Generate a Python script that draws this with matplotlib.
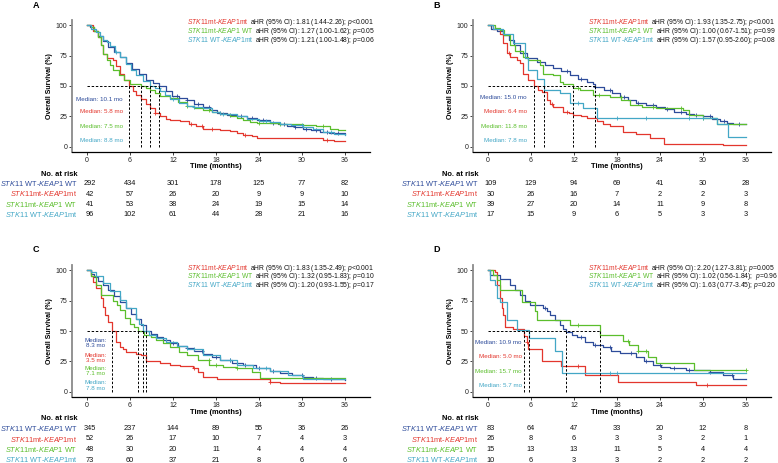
import numpy as np
import matplotlib
matplotlib.use("Agg")
import matplotlib.pyplot as plt
from matplotlib.transforms import blended_transform_factory

plt.rcParams['font.family'] = ['Liberation Sans', 'DejaVu Sans']
plt.rcParams['mathtext.fontset'] = 'custom'
plt.rcParams['mathtext.rm'] = 'Liberation Sans'
plt.rcParams['mathtext.it'] = 'Liberation Sans:italic'
plt.rcParams['mathtext.bf'] = 'Liberation Sans:bold'

BLUE = '#2D4B9A'
RED = '#E3362D'
GREEN = '#5BBE2C'
CYAN = '#43A7C6'
COLORS = [BLUE, RED, GREEN, CYAN]

GROUPS = [r'$\mathit{STK11}$ WT-$\mathit{KEAP1}$ WT',
          r'$\mathit{STK11}$mt-$\mathit{KEAP1}$mt',
          r'$\mathit{STK11}$mt-$\mathit{KEAP1}$ WT',
          r'$\mathit{STK11}$ WT-$\mathit{KEAP1}$mt']
RISK_TIMES = [0, 6, 12, 18, 24, 30, 36]

# ---- panel A ----
A_BLUE_T = [0, 0.4, 1.0, 1.6, 2.3, 3.0, 3.8, 4.6, 5.5, 6.3, 7.2, 8.3, 9.2, 10.1, 11.0, 11.8, 12.8, 13.9, 15.0,
            16.2, 17.2, 18.1, 19.5, 20.9, 22.3, 23.7, 25.5, 26.7, 27.9, 29.0, 30.2, 31.3, 32.5, 33.8, 35.0, 36]
A_BLUE_S = [100, 98, 95, 91, 87, 82, 78, 74, 69, 64, 60, 55, 52.5, 50, 46, 42, 40, 38.5, 35.5,
            32.5, 30, 27.6, 26.3, 25, 23.5, 22, 20, 18.5, 17, 16, 15, 13.8, 12.6, 11.8, 11.2, 11]
A_RED_T = [0, 0.8, 1.5, 1.9, 2.2, 2.8, 3.7, 4.1, 4.6, 5.2, 5.8, 6.4, 6.9, 7.6, 8.2, 8.8, 9.5, 10.2, 11.0, 11.6,
           13.0, 14.3, 15.2, 16.2, 18.6, 20.0, 21.0, 21.8, 23.0, 23.7, 32.0, 33.0, 34.5, 36]
A_RED_S = [100, 95, 90, 84, 76, 73, 71, 66, 60, 55, 50, 46, 43, 39, 35, 32, 28, 25, 23, 22,
           21, 19, 17, 15, 14, 13, 11.5, 10, 9, 7.5, 7, 6, 5, 5]
A_GREEN_T = [0, 0.5, 1.0, 1.6, 2.0, 2.3, 2.8, 3.2, 3.7, 4.4, 5.1, 6.0, 7.5, 8.3, 8.8, 9.5, 10.2, 11.6, 12.7,
             13.9, 15.0, 16.2, 17.4, 18.6, 20.0, 21.0, 21.8, 22.8, 23.7, 27.0, 30.2, 32.0, 33.9, 35.0, 36]
A_GREEN_S = [100, 98, 95, 90, 84, 76, 71, 67, 63, 59, 55, 52, 50, 48, 47, 44.5, 42, 40, 37,
             34, 32, 30, 28.5, 27, 25, 23.5, 22, 20.5, 19.4, 18.5, 18, 17, 15, 14, 14]
A_CYAN_T = [0, 0.6, 1.2, 1.8, 2.3, 2.8, 3.2, 3.9, 4.6, 5.4, 6.1, 6.9, 7.8, 8.8, 9.5, 10.2, 10.9, 11.6, 12.8,
            14.0, 15.0, 16.2, 17.5, 18.6, 20.9, 22.4, 24.0, 25.5, 27.0, 28.5, 30.2, 31.5, 33.0, 34.5, 36]
A_CYAN_S = [100, 97, 94, 91, 88, 86, 83, 78, 74, 68, 63, 59, 54, 50, 48, 46, 43, 39, 36,
            34, 33, 31.7, 29, 27, 25, 23, 21, 20.5, 19, 18, 16.5, 15, 12.6, 11, 10]
A_CENS = [[12.5, 14, 15.5, 17, 18.5, 20, 21.5, 23, 24.5, 26, 27.5, 29, 30.5, 32, 33.5, 35],
          [9.5, 14.5, 16, 17.5, 22, 33.5],
          [14, 17, 24, 27, 33],
          [4, 10, 12, 15, 19, 25, 30, 34]]
A_MED = [10.1, 5.8, 7.5, 8.8]
A_RISK = [[292, 434, 301, 178, 125, 77, 82],
          [42, 57, 26, 20, 9, 9, 10],
          [41, 53, 38, 24, 19, 15, 14],
          [96, 102, 61, 44, 28, 21, 16]]
A_HR = ['1.81 (1.44-2.26); $\\mathit{p}$<0.001',
        '1.27 (1.00-1.62); $\\mathit{p}$=0.05',
        '1.21 (1.00-1.48); $\\mathit{p}$=0.06']

# ---- panel B ----
B_BLUE_T = [0, 0.4, 1.2, 2.1, 3.0, 3.6, 4.5, 5.5, 6.8, 7.9, 9.1, 10.2, 11.4, 12.6, 13.8, 14.6, 15.0, 16.2,
            17.3, 18.4, 19.5, 20.7, 22.0, 23.5, 24.7, 26.0, 27.7, 28.8, 30.0, 31.2, 32.4, 33.3, 34.2, 36]
B_BLUE_S = [100, 97, 95, 92, 88, 84, 77, 73, 70, 67, 64.5, 62, 59, 56, 53.5, 51.5, 49.5, 46.5,
            44, 41, 38.5, 36, 34.5, 33, 31, 29, 27, 26, 25, 23, 21, 20, 19, 19]
B_RED_T = [0, 0.7, 1.7, 2.1, 2.6, 3.1, 4.1, 4.5, 4.9, 5.6, 6.4, 7.0, 7.5, 8.2, 8.7, 9.1, 10.5, 11.3, 11.9,
           13.0, 13.8, 15.2, 16.1, 17.0, 18.9, 20.7, 22.6, 24.5, 32.8, 36]
B_RED_S = [100, 97, 93, 85, 77, 74, 71, 69, 60, 55, 50, 47, 45, 38.5, 35, 32.5, 29, 27.5, 26,
           25, 23.5, 21, 19, 17, 12.6, 11, 7, 2.5, 1.6, 1.6]
B_GREEN_T = [0, 1.0, 1.7, 2.3, 3.1, 3.8, 4.9, 5.6, 7.3, 7.7, 9.1, 10.0, 10.5, 11.8, 12.8, 14.7, 17.0,
             18.6, 19.8, 21.5, 23.5, 27.2, 28.1, 30.0, 31.9, 36]
B_GREEN_S = [100, 97.5, 96, 92, 84, 79, 74, 71, 67, 60, 59, 53, 51.5, 48.7, 47, 43, 41,
             38.5, 34.4, 33, 31.7, 30, 26, 23.5, 19, 19]
B_CYAN_T = [0, 0.7, 2.1, 3.5, 5.2, 5.6, 6.9, 7.8, 10.0, 11.4, 13.3, 15.2, 31.9, 33.5, 36]
B_CYAN_S = [100, 97, 93, 85, 73, 63, 56, 47, 44, 36, 32, 23.5, 19, 8.5, 8.5]
B_CENS = [[11, 13, 15, 17, 19, 21, 23, 25, 27, 29, 31, 33, 35],
          [3, 9, 11],
          [12.5, 15.5, 18.5, 23, 27, 30],
          [12.5, 18, 22, 28, 30]]
B_MED = [15.0, 6.4, 11.8, 7.8]
B_RISK = [[109, 129, 94, 69, 41, 30, 28],
          [30, 26, 16, 7, 2, 2, 3],
          [39, 27, 20, 14, 11, 9, 8],
          [17, 15, 9, 6, 5, 3, 3]]
B_HR = ['1.93 (1.35-2.75); $\\mathit{p}$<0.001',
        '1.00 (0.67-1.51); $\\mathit{p}$=0.99',
        '1.57 (0.95-2.60); $\\mathit{p}$=0.08']

# ---- panel C ----
C_BLUE_T = [0, 0.5, 1.0, 1.6, 2.3, 3.0, 3.8, 4.6, 5.4, 6.2, 6.9, 7.6, 8.3, 9.0, 9.8, 10.6, 11.6, 12.7, 13.9,
            15.0, 16.2, 17.4, 18.6, 20.2, 21.8, 23.6, 25.5, 27.0, 28.6, 30.2, 31.6, 33.0, 36]
C_BLUE_S = [100, 97, 94, 91, 88, 84, 79, 74, 69, 64, 60, 55, 50, 47.5, 45, 42.6, 40, 38, 36,
            33.5, 31, 28.5, 26, 24, 22, 19.5, 17, 15.5, 14, 12.6, 11.5, 10.4, 10]
C_RED_T = [0, 0.5, 0.9, 1.3, 2.0, 2.3, 2.5, 2.9, 3.5, 4.1, 4.6, 5.0, 5.5, 6.9, 7.6, 8.3, 10.2, 11.6, 13.0,
           14.8, 15.5, 16.2, 18.1, 25.5, 26.9, 36]
C_RED_S = [100, 95, 90, 85, 77, 70, 63, 57, 50, 41, 37, 35, 33, 31, 30, 25, 23.5, 22, 21,
           19.4, 16, 12.6, 10.4, 8.5, 7, 7]
C_GREEN_T = [0, 0.6, 1.3, 2.0, 3.7, 4.2, 4.6, 5.3, 6.0, 6.6, 7.1, 7.9, 9.0, 9.7, 10.6, 11.6, 12.8, 13.9,
             15.5, 17.1, 19.0, 20.9, 23.0, 24.1, 36]
C_GREEN_S = [100, 95, 88, 79.5, 75, 71, 67, 61, 56, 53, 50, 47, 45, 42.6, 40, 37, 33, 30,
             26, 22, 20.5, 19.4, 16, 11.5, 11.5]
C_CYAN_T = [0, 0.6, 1.2, 2.3, 3.2, 4.6, 5.5, 6.9, 7.2, 7.8, 8.6, 9.7, 11.0, 12.5, 14.0, 16.2, 18.6, 20.9,
            23.2, 25.5, 28.0, 30.2, 36]
C_CYAN_S = [100, 98, 95, 89, 83, 75.4, 69, 60, 56, 50, 47, 44, 41, 38, 35, 30, 26, 22,
            19.5, 17, 14, 11, 10.4]
C_CENS = [[12, 14, 16, 18, 20, 22, 24, 26, 28, 30, 32, 34],
          [15, 25.5],
          [17, 18, 21],
          [15, 20, 25]]
C_MED = [8.3, 3.5, 7.1, 7.8]
C_RISK = [[345, 237, 144, 89, 55, 36, 26],
          [52, 26, 17, 10, 7, 4, 3],
          [48, 30, 20, 11, 4, 4, 4],
          [73, 60, 37, 21, 8, 6, 6]]
C_HR = ['1.83 (1.35-2.49); $\\mathit{p}$<0.001',
        '1.32 (0.95-1.83); $\\mathit{p}$=0.10',
        '1.20 (0.93-1.55); $\\mathit{p}$=0.17']

# ---- panel D ----
D_BLUE_T = [0, 0.3, 1.7, 3.1, 3.8, 4.5, 5.2, 5.9, 7.7, 8.2, 8.7, 9.4, 10.0, 10.5, 10.9, 11.7, 12.4, 13.5,
            14.7, 16.1, 17.2, 18.4, 20.7, 21.8, 23.1, 24.2, 25.4, 27.7, 31.0, 32.8, 34.2, 36]
D_BLUE_S = [100, 96, 93, 88, 84, 79.5, 75, 71, 68.6, 66, 63, 59, 55, 52, 49, 47, 45, 41,
            38.5, 37, 34, 31.7, 29, 25.5, 22, 20.5, 19.4, 18, 16, 14, 11, 11]
D_RED_T = [0, 1.0, 1.2, 1.7, 1.9, 2.1, 2.4, 3.5, 5.0, 5.4, 5.6, 7.6, 10.2, 13.6, 18.2, 29.0, 36]
D_RED_S = [100, 98.6, 88, 77, 69, 63, 53.5, 52, 46, 41, 35, 25, 21, 14, 8.5, 5.5, 5.5]
D_GREEN_T = [0, 0.7, 1.3, 1.7, 4.7, 6.5, 6.9, 11.4, 15.7, 18.9, 19.7, 21.0, 22.3, 23.4, 28.7, 36]
D_GREEN_S = [100, 96, 92, 84, 74, 66, 59, 55, 47, 42, 38.5, 34, 29, 23.5, 18, 18]
D_CYAN_T = [0, 0.3, 1.0, 1.2, 1.7, 2.6, 4.0, 5.7, 9.4, 10.3, 36]
D_CYAN_S = [100, 92, 88, 77, 74, 59, 51, 44, 34, 15.3, 15.3]
D_CENS = [[6.5, 8, 13, 15, 17, 20, 22, 24, 26, 28, 31, 34],
          [5.5, 12.5, 30.5],
          [12.5, 19.5, 21, 22, 36],
          [17, 18]]
D_MED = [10.9, 5.0, 15.7, 5.7]
D_RISK = [[83, 64, 47, 33, 20, 12, 8],
          [26, 8, 6, 3, 3, 2, 1],
          [15, 13, 13, 11, 5, 4, 4],
          [10, 6, 3, 3, 2, 2, 2]]
D_HR = ['2.20 (1.27-3.81); $\\mathit{p}$=0.005',
        '1.02 (0.56-1.84);  $\\mathit{p}$=0.96',
        '1.63 (0.77-3.45); $\\mathit{p}$=0.20']

W, H = 778, 463
fig = plt.figure(figsize=(W / 100, H / 100), dpi=100)
renderer = fig.canvas.get_renderer()


def fy(py):
    return 1 - py / H


def draw_panel(letter, left_px, top_px, curves, cens, med, med_style, risk, hr):
    bottom_px = top_px + 132
    ax = fig.add_axes([left_px / W, fy(bottom_px), 298 / W, 132 / H])
    ax.set_xlim(-2.09, 39.5)
    ax.set_ylim(-4.1, 104.1)
    for sp in ['top', 'right']:
        ax.spines[sp].set_visible(False)
    ax.spines['left'].set_color('#8a8a8a')
    ax.spines['left'].set_linewidth(1.3)
    ax.spines['bottom'].set_linewidth(0.9)
    ax.set_xticks(RISK_TIMES)
    ax.set_yticks([0, 25, 50, 75, 100])
    ax.tick_params(labelsize=5, length=2, width=0.6, pad=1.5, colors='#222222')

    # curves (blue, red, green, cyan)
    for (t, s), c, cc in zip(curves, COLORS, cens):
        ax.step(t, s, where='post', color=c, lw=0.9)
        sc = [s[np.searchsorted(t, x, side='right') - 1] for x in cc]
        ax.plot(cc, sc, '+', color=c, ms=2.6, mew=0.6)

    # median dashed lines
    ax.plot([0, max(med)], [50, 50], color='black', lw=0.7, ls=(0, (2.5, 1.8)))
    for m in med:
        ax.plot([m, m], [0, 50], color='black', lw=0.7, ls=(0, (2.5, 1.8)))

    # median labels
    if med_style == 'two':
        ys = [40.2, 27.9, 17.2, 5.3]
        for m, c, y in zip(med, COLORS, ys):
            ax.text(1.2, y, 'Median:\n%.1f mo' % m, color=c, fontsize=4.5, ha='center',
                    va='center', linespacing=1.15)
    else:
        xr, ys = med_style
        for m, c, y in zip(med, COLORS, ys):
            ax.text(xr, y, 'Median: %.1f mo' % m, color=c, fontsize=4.5, ha='right', va='center')

    tr = blended_transform_factory(ax.transData, fig.transFigure)
    ax.text(18, fy(top_px + 147), 'Time (months)', transform=tr, ha='center', va='center',
            fontsize=5.4, fontweight='bold')
    ax.set_ylabel('Overall Survival (%)', fontsize=5, fontweight='bold')
    ax.yaxis.set_label_coords(-19 / 298, 0.5)

    # risk table
    ax.text(-1.35, fy(top_px + 154), 'No. at risk', transform=tr, ha='right', va='center',
            fontsize=5.4, fontweight='bold')
    for i, (g, c, row) in enumerate(zip(GROUPS, COLORS, risk)):
        yy = fy(top_px + 163.5 + i * 10.5)
        ax.text(-1.35, yy, g, transform=tr, ha='right', va='center', fontsize=5.3, color=c)
        for tt, v in zip(RISK_TIMES, row):
            ax.text(tt + (0.4 if tt == 0 else 0), yy, str(v), transform=tr, ha='center',
                    va='center', fontsize=5.3, color='#111111')

    # hazard ratio text
    x0 = ax.transData.transform((13.9, 0))[0] / W
    for i, (j, s) in enumerate(zip([1, 2, 3], hr)):
        yb = fy(top_px + 4.5 + i * 8.7)
        t1 = fig.text(x0, yb, GROUPS[j], color=COLORS[j], fontsize=4.9, va='baseline')
        bb = t1.get_window_extent(renderer)
        fig.text(bb.x1 / W + 1.9 / W, yb, 'aHR (95% CI): ' + s, color='#111111',
                 fontsize=4.9, va='baseline')

    fig.text(left_px / W - 36 / W, fy(top_px - 15), letter, fontsize=6.5, fontweight='bold',
             ha='center', va='center')
    return ax


draw_panel('A', 72, 20,
           [(A_BLUE_T, A_BLUE_S), (A_RED_T, A_RED_S), (A_GREEN_T, A_GREEN_S), (A_CYAN_T, A_CYAN_S)],
           A_CENS, A_MED, (5.0, [39.3, 28.7, 17.2, 5.7]), A_RISK, A_HR)
draw_panel('B', 473, 20,
           [(B_BLUE_T, B_BLUE_S), (B_RED_T, B_RED_S), (B_GREEN_T, B_GREEN_S), (B_CYAN_T, B_CYAN_S)],
           B_CENS, B_MED, (5.4, [40.2, 28.7, 17.2, 5.7]), B_RISK, B_HR)
draw_panel('C', 72, 265,
           [(C_BLUE_T, C_BLUE_S), (C_RED_T, C_RED_S), (C_GREEN_T, C_GREEN_S), (C_CYAN_T, C_CYAN_S)],
           C_CENS, C_MED, 'two', C_RISK, C_HR)
draw_panel('D', 473, 265,
           [(D_BLUE_T, D_BLUE_S), (D_RED_T, D_RED_S), (D_GREEN_T, D_GREEN_S), (D_CYAN_T, D_CYAN_S)],
           D_CENS, D_MED, (4.7, [40.2, 28.7, 16.4, 5.7]), D_RISK, D_HR)

fig.savefig('out.png', dpi=100)
